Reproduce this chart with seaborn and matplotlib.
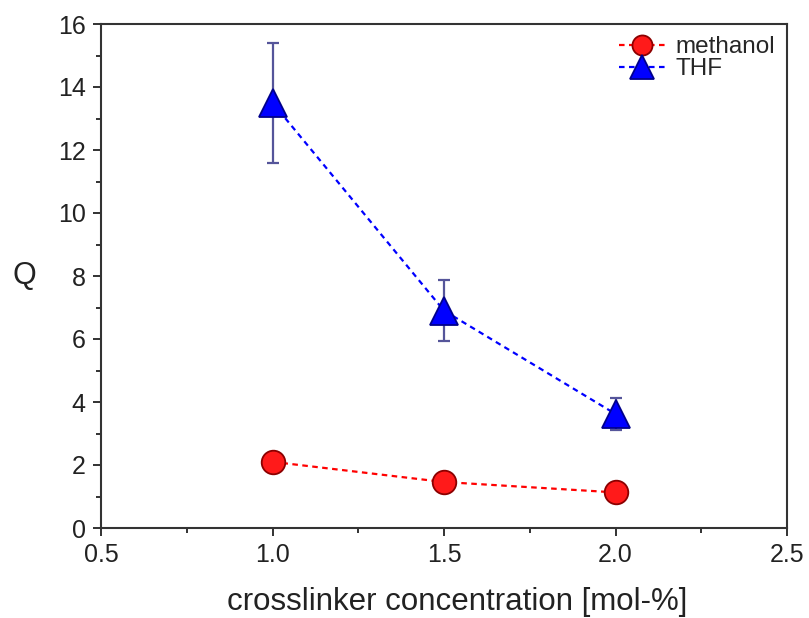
import matplotlib
matplotlib.use("Agg")
import matplotlib.pyplot as plt
import seaborn as sns
import pandas as pd
from matplotlib.ticker import MultipleLocator

conc = [1.0, 1.5, 2.0]
methanol = [2.1, 1.46, 1.13]
thf = [13.5, 6.9, 3.62]
thf_err = [1.9, 0.97, 0.52]

sns.set_theme(style="white")
plt.rcParams['font.family'] = ['Liberation Sans', 'DejaVu Sans']

fig = plt.figure(figsize=(8.09, 6.18), dpi=100)
ax = fig.add_axes([101/809, 1-528/618, (787-101)/809, (528-24)/618])

df = pd.DataFrame({"conc": conc * 2,
                   "Q": methanol + thf,
                   "solvent": ["methanol"] * 3 + ["THF"] * 3})

ax.errorbar(conc, thf, yerr=thf_err, fmt='none', ecolor='#55559a',
            elinewidth=1.6, capsize=4.5, capthick=1.6, zorder=2)

sns.lineplot(data=df, x="conc", y="Q", hue="solvent", style="solvent",
             palette={"methanol": "#ff0000", "THF": "#0000ff"},
             markers={"methanol": "o", "THF": "^"},
             dashes={"methanol": (2.5, 2), "THF": (2.5, 2)},
             linewidth=1.6, ax=ax, zorder=3, legend=False)

lines = [l for l in ax.lines if l.get_marker() in ('o', '^')]
for l in lines:
    if l.get_marker() == 'o':
        l.set_markerfacecolor("#ff1a1a"); l.set_markeredgecolor("#8b0000")
        l.set_markersize(17); l.set_markeredgewidth(1.3)
        l.set_label("methanol")
    else:
        l.set_markerfacecolor("#0000ff"); l.set_markeredgecolor("#00008b")
        l.set_markersize(20); l.set_markeredgewidth(1.3)
        l.set_label("THF")

ax.set_xlim(0.5, 2.5)
ax.set_ylim(0, 16)
ax.xaxis.set_major_locator(MultipleLocator(0.5))
ax.xaxis.set_minor_locator(MultipleLocator(0.25))
ax.yaxis.set_major_locator(MultipleLocator(2))
ax.yaxis.set_minor_locator(MultipleLocator(1))
ax.xaxis.set_major_formatter(matplotlib.ticker.FormatStrFormatter('%.1f'))
ax.tick_params(which='major', direction='out', length=6, width=1.3, colors='#222222',
               labelsize=18, bottom=True, left=True, top=False, right=False, pad=5)
ax.tick_params(which='minor', direction='out', length=3.5, width=1.3, colors='#222222',
               bottom=True, left=True, top=False, right=False)
for s in ax.spines.values():
    s.set_color('#333333'); s.set_linewidth(1.5); s.set_visible(True)

ax.set_xlabel("crosslinker concentration [mol-%]", fontsize=22.5, color='#222222')
ax.xaxis.set_label_coords(0.5 + 13/686, -0.118)
ax.set_ylabel("Q", fontsize=22, rotation=0, labelpad=24, color='#222222', va='center')

order = sorted(lines, key=lambda l: 0 if l.get_label() == "methanol" else 1)
leg = ax.legend(order, [h.get_label() for h in order], loc='upper right',
                frameon=False, fontsize=17.5, handlelength=1.9, handletextpad=0.4,
                labelspacing=0.0, borderaxespad=0.1, markerscale=0.85)

fig.savefig("out.png", dpi=100, facecolor='white')
